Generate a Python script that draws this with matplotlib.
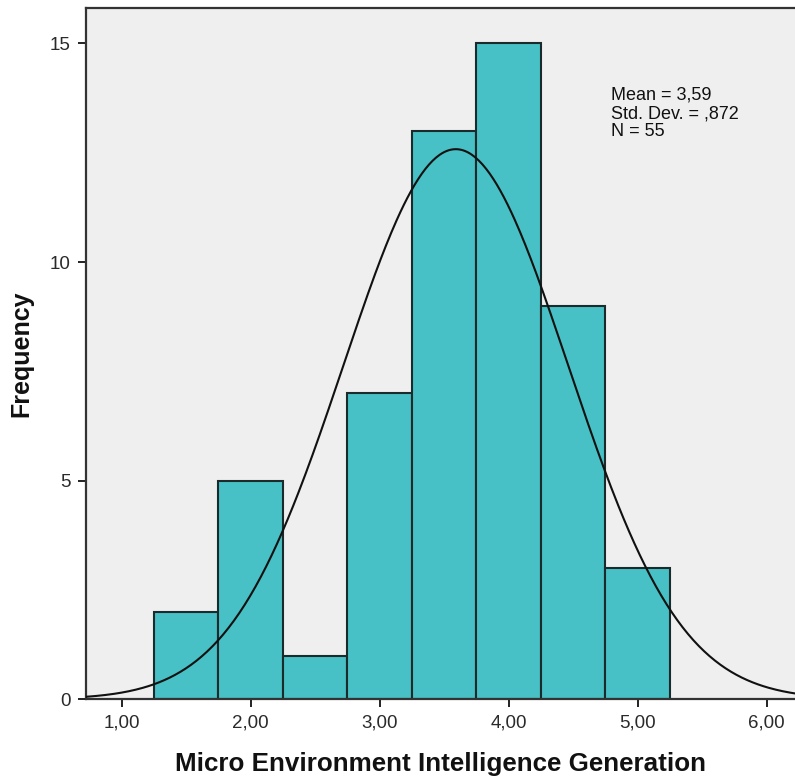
import matplotlib
matplotlib.use("Agg")
import matplotlib.pyplot as plt
import numpy as np

plt.rcParams['font.family'] = ['Liberation Sans', 'DejaVu Sans']

# Histogram bins (left edges) and counts
bin_edges = [1.25, 1.75, 2.25, 2.75, 3.25, 3.75, 4.25, 4.75, 5.25]
counts = [2, 5, 1, 7, 13, 15, 9, 3]

mean = 3.59
std_dev = 0.872
n_cases = 55

x_ticks = [1, 2, 3, 4, 5, 6]
x_tick_labels = ["1,00", "2,00", "3,00", "4,00", "5,00", "6,00"]
y_ticks = [0, 5, 10, 15]

fig = plt.figure(figsize=(7.95, 7.78), dpi=100)
ax = fig.add_axes([0.1082, 0.1012, 0.8918, 0.8885])
ax.set_facecolor("#efefef")

widths = np.diff(bin_edges)
ax.bar(bin_edges[:-1], counts, width=widths, align="edge",
       color="#47c1c5", edgecolor="#1b2b2b", linewidth=1.5, zorder=2)

# Normal curve scaled to the histogram counts
xs = np.linspace(0.72, 6.25, 400)
bin_w = widths[0]
ys = n_cases * bin_w / (std_dev * np.sqrt(2 * np.pi)) * np.exp(-0.5 * ((xs - mean) / std_dev) ** 2)
ax.plot(xs, ys, color="#111111", linewidth=1.5, zorder=3)

ax.set_xlim(0.723, 6.22)
ax.set_ylim(0, 15.81)

ax.set_xticks(x_ticks)
ax.set_xticklabels(x_tick_labels)
ax.set_yticks(y_ticks)
ax.tick_params(direction="out", length=6, width=1.4, color="#222222",
               labelsize=13.5, labelcolor="#2a2a2a", pad=5)

for side in ["left", "top", "bottom"]:
    ax.spines[side].set_color("#333333")
    ax.spines[side].set_linewidth(1.6)
ax.spines["right"].set_visible(False)

ax.set_xlabel("Micro Environment Intelligence Generation", fontsize=18.7,
              fontweight="bold", color="#111111", labelpad=15)
ax.set_ylabel("Frequency", fontsize=18, fontweight="bold", color="#111111", labelpad=12)

ax.text(0.741, 0.886, "Mean = 3,59\nStd. Dev. = ,872\nN = 55",
        transform=ax.transAxes, fontsize=13, color="#111111",
        va="top", ha="left", linespacing=1.1)

fig.savefig("out.png", dpi=100)
